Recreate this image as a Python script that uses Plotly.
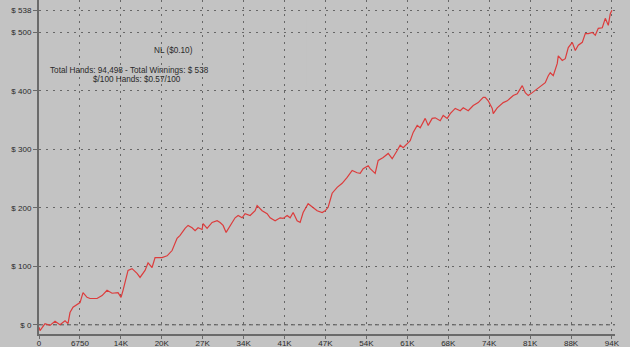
import plotly.graph_objects as go

# ---- data (hands played, cumulative winnings in $) ----
hands = [0, 165, 990, 1815, 2640, 3465, 4290, 4785, 5115, 5610, 6766, 7260, 7920, 8415,
         9570, 10400, 11220, 12046, 13036, 13530, 13860, 14686, 15346, 16170, 16666,
         17490, 17986, 18647, 19142, 20297, 21122, 21947, 22772, 23267, 24092, 24587,
         25247, 25742, 26237, 26898, 27063, 27723, 28548, 29373, 29868, 30363, 30858,
         31518, 32343, 32838, 33498, 33993, 34818, 35644, 35974, 36799, 37624, 38119,
         38944, 39769, 40264, 40924, 41419, 41914, 42574, 43069, 43564, 44389, 45214,
         45874, 46699, 47194, 47689, 48350, 49175, 50000, 50825, 51650, 52475, 52970,
         53465, 54290, 54620, 55446, 55941, 56766, 57591, 58251, 59076, 59571, 60066,
         60726, 61221, 61716, 62376, 62871, 63696, 64191, 64851, 65346, 66171, 66667,
         67327, 67822, 68647, 69472, 69967, 70792, 71617, 72442, 73267, 73597, 74092,
         74752, 74917, 75577, 76072, 76568, 77228, 77723, 78218, 78878, 79373, 79703,
         80198, 80693, 81353, 81848, 82343, 83003, 83498, 83993, 84323, 84818, 85478,
         85644, 86304, 86799, 87294, 87954, 88449, 88944, 89604, 90099, 90594, 91254,
         91749, 92244, 92904, 93399, 93894, 94224, 94498]
winnings = [-4, -10, 2, -1, 6, 0, 7, 2, 21, 30, 38, 55, 47, 45,
            45, 50, 59, 54, 55, 47, 59, 93, 96, 88, 81,
            93, 106, 98, 115, 115, 118, 127, 148, 153, 165, 170,
            166, 161, 166, 163, 173, 165, 175, 178, 175, 170, 158,
            170, 183, 187, 183, 190, 187, 195, 204, 195, 190, 183,
            178, 183, 182, 187, 183, 192, 178, 175, 192, 207, 201,
            195, 192, 195, 201, 225, 235, 242, 252, 264, 260, 259,
            267, 272, 267, 259, 281, 286, 293, 284, 298, 307, 303,
            310, 315, 329, 341, 337, 353, 341, 353, 354, 349, 358,
            353, 361, 370, 366, 371, 366, 375, 380, 389, 389, 383,
            370, 361, 371, 375, 380, 383, 387, 392, 395, 404, 409,
            397, 392, 397, 401, 404, 409, 414, 426, 431, 426, 447,
            460, 452, 455, 474, 483, 469, 478, 483, 498, 498, 500,
            495, 507, 508, 524, 512, 532, 538]

x_tickvals = [0, 6750, 13500, 20250, 27000, 33750, 40500, 47250, 54000, 60750,
              67500, 74250, 81000, 87750, 94500]
x_ticktext = ["0", "6750", "14K", "20K", "27K", "34K", "41K", "47K", "54K", "61K",
              "68K", "74K", "81K", "88K", "94K"]
y_tickvals = [0, 100, 200, 300, 400, 500, 538]
y_ticktext = ["$ 0", "$ 100", "$ 200", "$ 300", "$ 400", "$ 500", "$ 538"]

title_text = "NL ($0.10)"
line1_text = "Total Hands: 94,498 - Total Winnings: $ 538"
line2_text = "$/100 Hands: $0.57/100"

BG = "#c3c3c3"
GRID = "#666666"
AXIS = "#6a6a6a"
TXT = "#2a2a2a"
FONT = "Liberation Sans, Arial, sans-serif"

fig = go.Figure()
fig.add_trace(go.Scatter(x=hands, y=winnings, mode="lines",
                         line=dict(color="#dc3c3c", width=1.2), hoverinfo="skip"))

fig.update_layout(
    width=630, height=347,
    margin=dict(l=39, r=15, t=0, b=13),
    paper_bgcolor=BG, plot_bgcolor=BG,
    showlegend=False,
    template="none",
    font=dict(family=FONT, size=8, color=TXT),
)
fig.update_xaxes(
    range=[0, 95000], tickvals=x_tickvals, ticktext=x_ticktext,
    showgrid=True, gridcolor=GRID, gridwidth=1, griddash="2px,5px",
    zeroline=False, showline=True, linecolor=AXIS, linewidth=2,
    ticks="outside", ticklen=3, tickcolor=AXIS, automargin=False,
    ticklabelstandoff=-3,
    tickfont=dict(family=FONT, size=8, color=TXT),
)
fig.update_yaxes(
    range=[-15.7, 555.4], tickvals=y_tickvals, ticktext=y_ticktext,
    showgrid=True, gridcolor=GRID, gridwidth=1, griddash="2px,5px",
    zeroline=False, showline=True, linecolor=AXIS, linewidth=2,
    ticks="outside", ticklen=4, tickcolor=AXIS, automargin=False,
    tickfont=dict(family=FONT, size=8, color=TXT),
)

# zero reference line (dashed)
fig.add_shape(type="line", xref="paper", yref="y", x0=0, x1=1, y0=0, y1=0,
              line=dict(color="#555555", width=1, dash="4px,3px"), layer="between")
# background box behind the text block hiding grid lines
fig.add_shape(type="rect", xref="paper", yref="paper",
              x0=0.002, x1=0.465, y0=0.737, y1=0.964,
              fillcolor=BG, line=dict(width=0), layer="between")

fig.add_annotation(text=title_text, xref="paper", yref="paper",
                   x=(173 - 39) / 576, y=(334 - 50.7) / 334, showarrow=False,
                   xanchor="center", yanchor="middle",
                   font=dict(family=FONT, size=8.2, color=TXT))
fig.add_annotation(text=line1_text, xref="paper", yref="paper",
                   x=(129 - 39) / 576, y=(334 - 70.3) / 334, showarrow=False,
                   xanchor="center", yanchor="middle",
                   font=dict(family=FONT, size=8.2, color=TXT))
fig.add_annotation(text=line2_text, xref="paper", yref="paper",
                   x=(137 - 39) / 576, y=(334 - 79.5) / 334, showarrow=False,
                   xanchor="center", yanchor="middle",
                   font=dict(family=FONT, size=8.2, color=TXT))

fig.write_html("out.html")
